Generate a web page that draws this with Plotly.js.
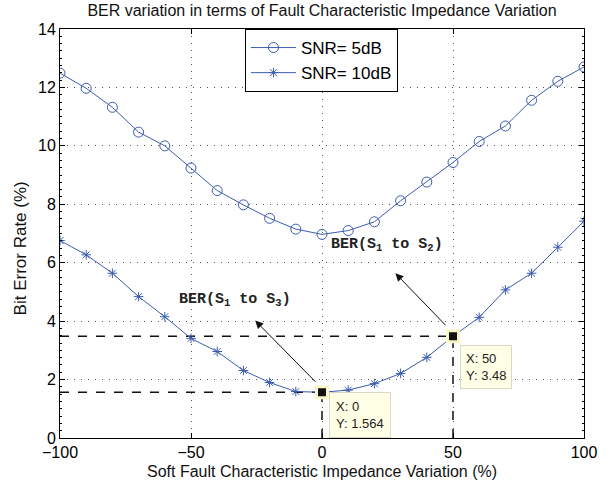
<!DOCTYPE html>
<html>
<head>
<meta charset="utf-8">
<script src="https://cdn.plot.ly/plotly-3.0.1.min.js"></script>
<style>html,body{margin:0;padding:0;background:#fff;}#chart{width:611px;height:488px;}</style>
</head>
<body>
<div id="chart"></div>
<script>
const impedanceVariation = [-100,-90,-80,-70,-60,-50,-40,-30,-20,-10,0,10,20,30,40,50,60,70,80,90,100];
const berSnr5 = [12.49,11.97,11.32,10.47,10.0,9.24,8.47,7.98,7.52,7.15,6.97,7.10,7.40,8.12,8.76,9.43,10.15,10.68,11.56,12.21,12.7];
const berSnr10 = [6.76,6.27,5.64,4.84,4.15,3.41,2.96,2.31,1.90,1.59,1.564,1.64,1.86,2.21,2.76,3.48,4.13,5.07,5.64,6.53,7.42];
const seriesNames = ["SNR= 5dB", "SNR= 10dB"];
const tipX = [0, 50];
const tipY = [1.564, 3.48];
const labelTexts = ["BER(S<sub>1</sub> to S<sub>3</sub>)", "BER(S<sub>1</sub> to S<sub>2</sub>)"];
const xTickVals = [-100, -50, 0, 50, 100];
const xTickText = ['\u2212100', '\u221250', '0', '50', '100'];

const blue = '#3d5cae';
const sans = 'Liberation Sans, Arial, Helvetica, sans-serif';
const traces = [
  {x: impedanceVariation, y: berSnr5, name: seriesNames[0], mode: 'lines+markers',
   line: {color: blue, width: 1},
   marker: {symbol: 'circle-open', size: 10, color: blue, line: {color: blue, width: 1}}},
  {x: impedanceVariation, y: berSnr10, name: seriesNames[1], mode: 'lines+markers',
   line: {color: blue, width: 1},
   marker: {symbol: 'asterisk-open', size: 8, color: blue, line: {color: blue, width: 1}}},
  {x: tipX, y: tipY, mode: 'markers', showlegend: false, hoverinfo: 'skip',
   marker: {symbol: 'square', size: 11, color: '#111', line: {color: '#fbf7c8', width: 3}}}
];

const shapes = [];
for (let i = 0; i < tipX.length; i++) {
  shapes.push({type: 'line', xref: 'x', yref: 'y', x0: -100, x1: tipX[i], y0: tipY[i], y1: tipY[i],
    line: {color: '#111', width: 1.5, dash: 'dash'}, layer: 'below'});
  shapes.push({type: 'line', xref: 'x', yref: 'y', x0: tipX[i], x1: tipX[i], y0: 0, y1: tipY[i],
    line: {color: '#111', width: 1.5, dash: 'dash'}, layer: 'below'});
}

const annFont = {family: sans, size: 13, color: '#222'};
const monoFont = {family: 'Liberation Mono, Courier New, monospace', size: 15, color: '#222'};
const annotations = [
  {xref: 'x', yref: 'y', x: 2.8, y: 0.0, xanchor: 'left', yanchor: 'bottom', showarrow: false,
   text: 'X: ' + tipX[0] + '<br>Y: ' + tipY[0], align: 'left', font: annFont,
   bgcolor: '#ffffe6', bordercolor: '#d8d8c8', borderwidth: 1, borderpad: 6},
  {xref: 'x', yref: 'y', x: 52.5, y: 3.2, xanchor: 'left', yanchor: 'top', showarrow: false,
   text: 'X: ' + tipX[1] + '<br>Y: ' + tipY[1], align: 'left', font: annFont,
   bgcolor: '#ffffe6', bordercolor: '#d8d8c8', borderwidth: 1, borderpad: 5},
  {xref: 'x', yref: 'y', x: -25.5, y: 4.02, ax: -1.9, ay: 1.87, axref: 'x', ayref: 'y',
   text: '', showarrow: true, arrowhead: 2, arrowsize: 1.6, arrowwidth: 1, arrowcolor: '#111'},
  {xref: 'x', yref: 'y', x: 28, y: 5.64, ax: 47.7, ay: 3.81, axref: 'x', ayref: 'y',
   text: '', showarrow: true, arrowhead: 2, arrowsize: 1.6, arrowwidth: 1, arrowcolor: '#111'},
  {xref: 'x', yref: 'y', x: -33.3, y: 4.73, showarrow: false, text: '<b>' + labelTexts[0] + '</b>', font: monoFont},
  {xref: 'x', yref: 'y', x: 24.9, y: 6.61, showarrow: false, text: '<b>' + labelTexts[1] + '</b>', font: monoFont},
  {xref: 'paper', yref: 'paper', x: -0.076, y: 0.464, xanchor: 'center', yanchor: 'middle',
   showarrow: false, textangle: -90, text: 'Bit Error Rate (%)',
   font: {family: sans, size: 17, color: '#111'}},
  {xref: 'paper', yref: 'paper', x: 0.5, y: -0.083, xanchor: 'center', yanchor: 'middle',
   showarrow: false, text: 'Soft Fault Characteristic Impedance Variation (%)',
   font: {family: sans, size: 16, color: '#111'}}
];

const axisCommon = {
  showline: true, linecolor: '#000', linewidth: 1, mirror: 'ticks',
  ticks: 'inside', ticklen: 5, tickcolor: '#000',
  showgrid: true, gridcolor: '#555', griddash: '1px,6px', gridwidth: 1,
  zeroline: false,
  tickfont: {family: sans, size: 16, color: '#000'}
};

const layout = {
  width: 611, height: 488,
  margin: {l: 60, r: 27, t: 29, b: 50},
  paper_bgcolor: '#fff', plot_bgcolor: '#fff',
  font: {family: sans, size: 16, color: '#000'},
  title: {text: 'BER variation in terms of Fault Characteristic Impedance Variation',
    x: 0.527, xanchor: 'center', y: 0.99, yanchor: 'top',
    font: {family: sans, size: 16, color: '#111'}},
  xaxis: Object.assign({}, axisCommon, {range: [-100, 100], tickvals: xTickVals, ticktext: xTickText}),
  yaxis: Object.assign({}, axisCommon, {range: [0, 14], dtick: 2,
    minor: {dtick: 0.25, ticks: 'inside', ticklen: 2, tickcolor: '#000', showgrid: false}}),
  legend: {x: 0.353, y: 1, xanchor: 'left', yanchor: 'top', bgcolor: '#fff',
    bordercolor: '#000', borderwidth: 1,
    font: {family: sans, size: 17, color: '#000'},
    itemwidth: 45, tracegroupgap: 0},
  shapes: shapes,
  annotations: annotations,
  showlegend: true
};

Plotly.newPlot('chart', traces, layout, {displayModeBar: false, staticPlot: true});
</script>
</body>
</html>
